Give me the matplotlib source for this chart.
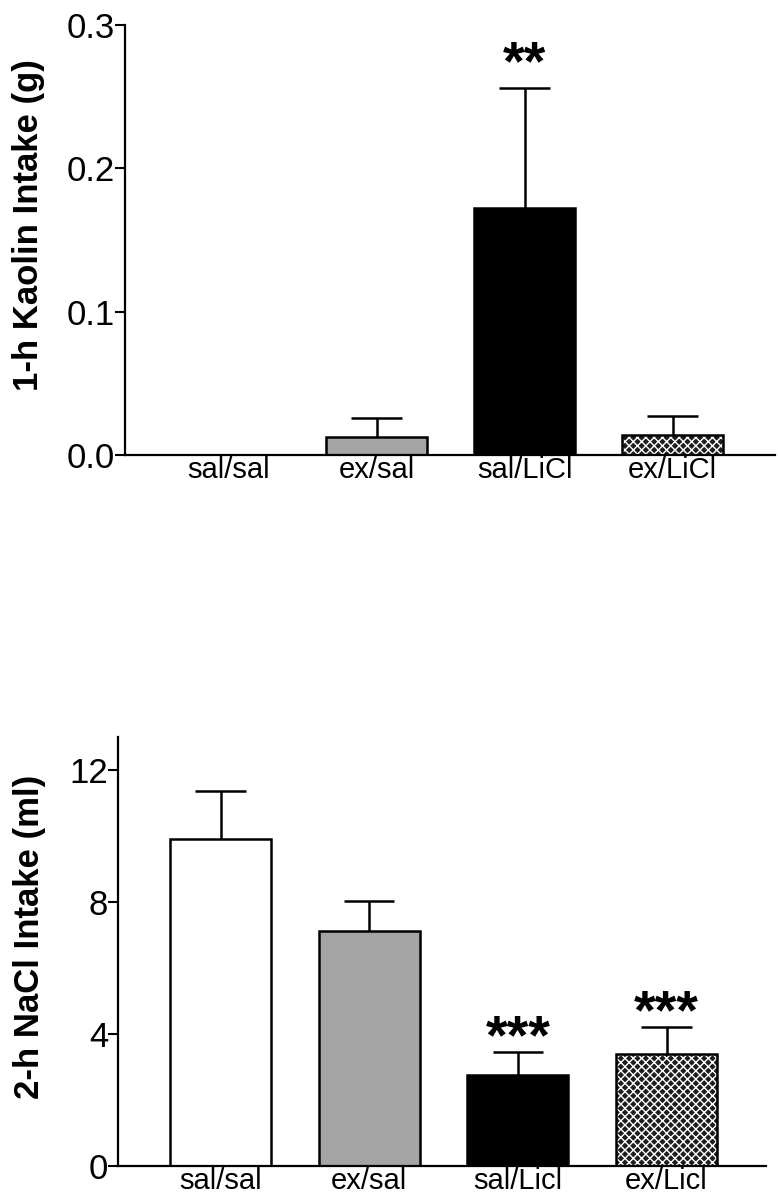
import matplotlib
matplotlib.use("Agg")
import matplotlib.pyplot as plt
import numpy as np

plt.rcParams['font.family'] = ['Liberation Sans', 'DejaVu Sans']
plt.rcParams['hatch.linewidth'] = 1.0

# ---- data ----
top_categories = ["sal/sal", "ex/sal", "sal/LiCl", "ex/LiCl"]
top_means = [0.0, 0.0125, 0.172, 0.014]
top_sem = [0.0, 0.0135, 0.084, 0.013]
top_stars = ["", "", "**", ""]
top_ylabel = "1-h Kaolin Intake (g)"
top_yticks = [0.0, 0.1, 0.2, 0.3]
top_yticklabels = ["0.0", "0.1", "0.2", "0.3"]

bot_categories = ["sal/sal", "ex/sal", "sal/Licl", "ex/Licl"]
bot_means = [9.9, 7.13, 2.75, 3.38]
bot_sem = [1.46, 0.91, 0.69, 0.82]
bot_stars = ["", "", "***", "***"]
bot_ylabel = "2-h NaCl Intake (ml)"
bot_yticks = [0, 4, 8, 12]
bot_yticklabels = ["0", "4", "8", "12"]

facecolors = ["white", "#a4a4a4", "black", "#1e1e1e"]
hatches = [None, None, None, "xxxx"]

fig = plt.figure(figsize=(7.78, 12), dpi=100)
ax1 = fig.add_axes([0.1607, 0.6208, 0.835, 0.3584])
ax2 = fig.add_axes([0.1517, 0.0283, 0.833, 0.3577])


def draw(ax, cats, means, sem, stars, ylabel, yticks, yticklabels, ylim, xlim, star_off, label_x):
    x = np.arange(len(cats))
    for i in range(len(cats)):
        if means[i] > 0:
            if hatches[i]:
                ax.bar(x[i], means[i], width=0.68, color=facecolors[i], edgecolor="white",
                       linewidth=0, hatch=hatches[i], zorder=2)
                ax.bar(x[i], means[i], width=0.68, fill=False, edgecolor="black",
                       linewidth=1.8, zorder=2.5)
            else:
                ax.bar(x[i], means[i], width=0.68, color=facecolors[i], edgecolor="black",
                       linewidth=1.8, zorder=2)
            top = means[i] + sem[i]
            ax.vlines(x[i], means[i], top, color="black", linewidth=1.8, zorder=3)
            ax.hlines(top, x[i] - 0.17, x[i] + 0.17, color="black", linewidth=1.8, zorder=3)
            if stars[i]:
                ax.annotate(stars[i], (x[i], top), xytext=(0, star_off), textcoords="offset points",
                            ha="center", va="bottom", fontsize=40, fontweight="bold")
    ax.set_xlim(*xlim)
    ax.set_ylim(*ylim)
    ax.set_xticks(x)
    ax.set_xticklabels(cats, fontsize=21)
    ax.tick_params(axis="x", length=0, pad=1)
    ax.set_yticks(yticks)
    ax.set_yticklabels(yticklabels, fontsize=25)
    ax.tick_params(axis="y", length=7, width=1.5, pad=0, direction="out")
    ax.spines["top"].set_visible(False)
    ax.spines["right"].set_visible(False)
    ax.spines["left"].set_linewidth(1.6)
    ax.spines["bottom"].set_linewidth(1.6)
    ax.set_ylabel(ylabel, fontsize=25, fontweight="bold")
    ax.yaxis.set_label_coords(label_x, 0.535)


draw(ax1, top_categories, top_means, top_sem, top_stars, top_ylabel,
     top_yticks, top_yticklabels, (0, 0.3), (-0.70, 3.69), -2, -0.123)
draw(ax2, bot_categories, bot_means, bot_sem, bot_stars, bot_ylabel,
     bot_yticks, bot_yticklabels, (0, 13), (-0.69, 3.67), -9, -0.111)

fig.savefig("out.png", dpi=100)
